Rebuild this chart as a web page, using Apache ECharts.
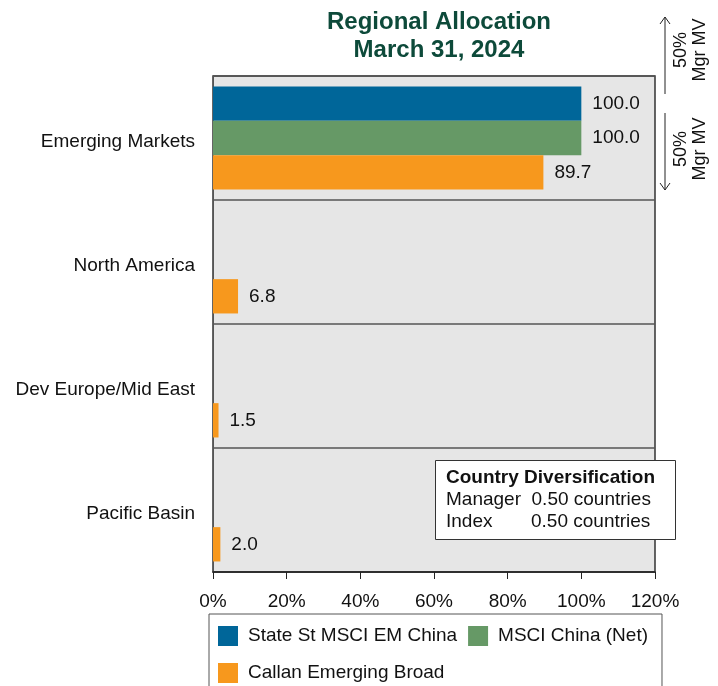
<!DOCTYPE html>
<html><head><meta charset="utf-8">
<script src="https://cdn.jsdelivr.net/npm/echarts@6/dist/echarts.min.js"></script>
<style>html,body{margin:0;padding:0;background:#fff}#c{width:718px;height:686px}</style>
</head><body><div id="c"></div>
<script>
const categories = ['Emerging Markets', 'North America', 'Dev Europe/Mid East', 'Pacific Basin'];
const seriesNames = ['State St MSCI EM China', 'MSCI China (Net)', 'Callan Emerging Broad'];
const stateSt = [100.0, 0, 0, 0];
const msciChina = [100.0, 0, 0, 0];
const callan = [89.7, 6.8, 1.5, 2.0];
const xTicks = [0, 20, 40, 60, 80, 100, 120];
const colors = ['#006699', '#669966', '#F7981D'];

const chart = echarts.init(document.getElementById('c'));
const font = 'Arial, "Liberation Sans", Helvetica, sans-serif';
const lbl = {
  show: true, position: 'right', distance: 11, color: '#111', fontSize: 19, fontFamily: font,
  formatter: p => p.value ? p.value.toFixed(1) : ''
};
function mk(name, data, i) {
  return { name, type: 'bar', data, itemStyle: { color: colors[i] }, barGap: '0%', barCategoryGap: '17%', label: lbl, silent: true };
}
chart.setOption({
  animation: false,
  backgroundColor: '#fff',
  title: {
    text: 'Regional Allocation\nMarch 31, 2024', left: 434, top: 3, textAlign: 'center',
    textStyle: { fontFamily: '"Liberation Sans Narrow", "Arial Narrow", Arial, sans-serif', fontWeight: 'bold', fontSize: 24, lineHeight: 28, color: '#0D4A3A' }
  },
  grid: { left: 213, right: 63, top: 76, bottom: 114, show: true, backgroundColor: '#E6E6E6', borderColor: '#333', borderWidth: 1.5 },
  xAxis: {
    type: 'value', min: 0, max: 120, interval: 20,
    axisLine: { show: true, lineStyle: { color: '#222', width: 1.5 } },
    axisTick: { show: true, length: 7, lineStyle: { color: '#222' } },
    splitLine: { show: false },
    axisLabel: { margin: 20, fontSize: 19, color: '#111', fontFamily: font, formatter: v => v + '%' }
  },
  yAxis: {
    type: 'category', data: categories, inverse: true,
    axisLine: { show: true, lineStyle: { color: '#555' } },
    axisTick: { show: false },
    splitLine: { show: true, lineStyle: { color: '#555', width: 1.5 } },
    axisLabel: {
      margin: 18, fontSize: 19, color: '#111', fontFamily: font,
      formatter: v => '{a|' + v + '}',
      rich: { a: { fontSize: 19, color: '#111', fontFamily: font, padding: [8, 0, 0, 0] } }
    }
  },
  legend: {
    data: seriesNames, left: 209, top: 614, width: 445,
    orient: 'horizontal', itemWidth: 20, itemHeight: 20, itemGap: 11,
    icon: 'rect', padding: [9, 14, 20, 9],
    borderColor: '#555', borderWidth: 1, backgroundColor: '#fff',
    textStyle: { fontSize: 19, color: '#111', fontFamily: font, lineHeight: 26, padding: [0, 0, 0, 5] },
    selectedMode: false
  },
  series: [mk(seriesNames[0], stateSt, 0), mk(seriesNames[1], msciChina, 1), mk(seriesNames[2], callan, 2)],
  graphic: [
    { type: 'rect', left: 435, top: 460, shape: { width: 240, height: 79 }, style: { fill: '#fff', stroke: '#333', lineWidth: 1 }, z: 10 },
    { type: 'text', x: 446, y: 478, z: 11, style: { text: 'Country Diversification', font: 'bold 19px ' + font, fill: '#111', verticalAlign: 'middle' } },
    { type: 'text', x: 446, y: 500, z: 11, style: { text: 'Manager  0.50 countries', font: '19px ' + font, fill: '#111', verticalAlign: 'middle' } },
    { type: 'text', x: 446, y: 522, z: 11, style: { text: 'Index', font: '19px ' + font, fill: '#111', verticalAlign: 'middle' } },
    { type: 'text', x: 531, y: 522, z: 11, style: { text: '0.50 countries', font: '19px ' + font, fill: '#111', verticalAlign: 'middle' } },
    { type: 'polyline', z: 11, shape: { points: [[665, 94], [665, 17]] }, style: { stroke: '#222', lineWidth: 1, fill: null } },
    { type: 'polyline', z: 11, shape: { points: [[660, 24], [665, 17], [670, 24]] }, style: { stroke: '#222', lineWidth: 1, fill: null } },
    { type: 'polyline', z: 11, shape: { points: [[665, 113], [665, 190]] }, style: { stroke: '#222', lineWidth: 1, fill: null } },
    { type: 'polyline', z: 11, shape: { points: [[660, 183], [665, 190], [670, 183]] }, style: { stroke: '#222', lineWidth: 1, fill: null } },
    { type: 'text', x: 691, y: 50, rotation: Math.PI / 2, z: 11, style: { text: '50%\nMgr MV', font: '18px ' + font, fill: '#111', align: 'center', verticalAlign: 'middle', lineHeight: 19 } },
    { type: 'text', x: 691, y: 149, rotation: Math.PI / 2, z: 11, style: { text: '50%\nMgr MV', font: '18px ' + font, fill: '#111', align: 'center', verticalAlign: 'middle', lineHeight: 19 } }
  ]
});
</script></body></html>
